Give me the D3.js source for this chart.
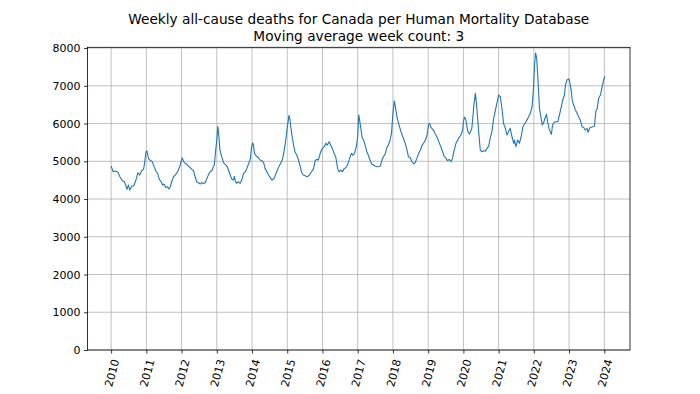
<!DOCTYPE html>
<html><head><meta charset="utf-8">
<script src="https://cdn.jsdelivr.net/npm/d3@7"></script>
<style>body{margin:0;background:#fff} text{font-family:"DejaVu Sans",sans-serif;fill:#000}</style>
</head><body><svg id="c" width="700" height="394"></svg>
<script>
const titleLines = ["Weekly all-cause deaths for Canada per Human Mortality Database", "Moving average week count: 3"];
const yearTicks = [2010,2011,2012,2013,2014,2015,2016,2017,2018,2019,2020,2021,2022,2023,2024];
const yTicks = [0,1000,2000,3000,4000,5000,6000,7000,8000];

// dates as decimal years
const dates = [
 2010.00,2010.06,2010.11,2010.19,2010.25,2010.32,2010.38,2010.41,2010.45,2010.49,2010.53,2010.59,2010.64,2010.70,2010.76,2010.81,2010.87,2010.92,2010.95,2010.99,
 2011.02,2011.06,2011.10,2011.17,2011.23,2011.28,2011.32,2011.37,2011.42,2011.46,2011.50,2011.55,2011.60,2011.64,2011.68,2011.72,2011.77,2011.82,2011.86,2011.91,2011.96,2012.00,
 2012.02,2012.06,2012.10,2012.15,2012.19,2012.24,2012.29,2012.34,2012.38,2012.43,2012.48,2012.53,2012.57,2012.62,2012.67,2012.72,2012.76,2012.81,2012.86,2012.90,2012.93,2012.97,
 2013.00,2013.03,2013.06,2013.09,2013.14,2013.19,2013.26,2013.30,2013.35,2013.40,2013.43,2013.47,2013.50,2013.53,2013.57,2013.61,2013.66,2013.71,2013.76,2013.81,2013.85,2013.90,2013.95,2013.99,
 2014.02,2014.04,2014.07,2014.12,2014.18,2014.23,2014.28,2014.33,2014.37,2014.42,2014.47,2014.51,2014.57,2014.63,2014.68,2014.74,2014.80,2014.86,2014.89,2014.93,2014.97,
 2015.01,2015.05,2015.07,2015.10,2015.14,2015.18,2015.22,2015.27,2015.32,2015.37,2015.41,2015.46,2015.52,2015.57,2015.63,2015.69,2015.75,2015.79,2015.84,2015.88,2015.91,2015.95,
 2016.00,2016.05,2016.10,2016.14,2016.19,2016.24,2016.28,2016.33,2016.38,2016.43,2016.47,2016.52,2016.57,2016.62,2016.66,2016.71,2016.77,2016.82,2016.86,2016.91,2016.96,
 2017.00,2017.03,2017.05,2017.09,2017.13,2017.16,2017.21,2017.26,2017.30,2017.35,2017.40,2017.45,2017.49,2017.54,2017.59,2017.64,2017.69,2017.73,2017.78,2017.83,2017.87,2017.92,2017.96,
 2018.00,2018.04,2018.07,2018.11,2018.16,2018.21,2018.26,2018.30,2018.35,2018.40,2018.44,2018.49,2018.54,2018.59,2018.63,2018.68,2018.73,2018.78,2018.83,2018.87,2018.92,2018.97,
 2019.01,2019.04,2019.08,2019.13,2019.17,2019.22,2019.27,2019.32,2019.36,2019.41,2019.46,2019.51,2019.55,2019.60,2019.65,2019.69,2019.74,2019.79,2019.84,2019.88,2019.93,2019.98,
 2020.00,2020.03,2020.07,2020.12,2020.17,2020.21,2020.24,2020.27,2020.30,2020.34,2020.37,2020.40,2020.43,2020.48,2020.53,2020.58,2020.62,2020.67,2020.72,2020.76,2020.81,2020.86,2020.91,2020.95,
 2021.00,2021.05,2021.10,2021.14,2021.19,2021.24,2021.28,2021.33,2021.38,2021.43,2021.45,2021.49,2021.54,2021.59,2021.64,2021.69,2021.76,2021.83,2021.90,2021.95,2021.99,
 2022.02,2022.05,2022.08,2022.11,2022.14,2022.16,2022.20,2022.24,2022.28,2022.32,2022.36,2022.39,2022.43,2022.47,2022.50,2022.53,2022.58,2022.63,2022.68,2022.72,2022.77,2022.82,2022.87,2022.90,2022.94,2022.99,
 2023.02,2023.06,2023.09,2023.13,2023.18,2023.23,2023.27,2023.32,2023.37,2023.42,2023.46,2023.51,2023.54,2023.59,2023.63,2023.68,2023.72,2023.76,2023.80,2023.84,2023.89,2023.94,2023.98,2024.02
];
const deaths = [
 4874,4723,4740,4715,4590,4485,4458,4371,4257,4371,4238,4344,4344,4485,4697,4635,4750,4785,4944,5253,
 5270,5077,5033,4988,4838,4723,4679,4521,4458,4371,4397,4309,4327,4265,4327,4458,4590,4635,4679,4768,4900,5050,
 5090,4988,4944,4926,4874,4838,4785,4750,4609,4458,4432,4397,4432,4415,4432,4547,4635,4723,4750,4850,4900,5300,
 5560,5930,5650,5298,5121,4962,4900,4856,4723,4590,4521,4503,4600,4459,4415,4459,4415,4503,4680,4723,4810,4927,5050,5386,
 5490,5430,5210,5140,5100,5033,5015,4962,4812,4723,4635,4573,4503,4547,4680,4812,4927,5033,5165,5386,5650,
 5960,6220,6150,5916,5650,5430,5253,5165,5033,4856,4697,4635,4609,4590,4635,4723,4812,5015,5050,5033,5121,5253,
 5342,5386,5475,5430,5520,5410,5342,5210,5100,4812,4723,4767,4723,4812,4830,4900,5077,5210,5165,5210,5386,
 5650,6230,6120,5873,5608,5580,5430,5253,5165,5033,4927,4900,4874,4856,4856,4874,5033,5121,5190,5368,5430,5565,5740,
 6270,6600,6440,6199,6005,5846,5696,5608,5475,5298,5121,5100,4988,4927,4962,5077,5210,5298,5430,5475,5565,5696,
 5960,6005,5900,5846,5785,5696,5608,5475,5386,5253,5121,5077,5015,5050,4988,5077,5298,5475,5565,5634,5696,5830,
 6049,6170,6100,5810,5722,5800,5874,6180,6500,6800,6550,6200,5828,5298,5253,5280,5270,5342,5400,5608,5784,6137,6358,6535,
 6755,6710,6358,6005,5873,5695,5784,5873,5650,5475,5560,5386,5563,5475,5650,5916,6022,6137,6270,6446,6932,
 7550,7870,7727,7285,6755,6402,6180,5960,6031,6154,6243,6049,5873,5767,5714,5960,6040,6049,6049,6200,6402,6623,6755,7038,7152,7179,
 7107,6887,6623,6490,6358,6270,6180,6092,5916,5890,5828,5873,5767,5890,5900,5916,5930,6313,6402,6667,6755,6975,7152,7250
];

const svg = d3.select("#c");
const L = 87.5, R = 630, T = 47.3, B = 350;
const x = d3.scaleLinear().domain([2009.33, 2024.73]).range([L, R]);
const y = d3.scaleLinear().domain([0, 8020]).range([B, T]);

// grid
const grid = svg.append("g").attr("stroke", "#b0b0b0").attr("stroke-width", 0.8);
grid.selectAll("line.v").data(yearTicks).join("line")
  .attr("x1", d => x(d)).attr("x2", d => x(d)).attr("y1", T).attr("y2", B);
grid.selectAll("line.h").data(yTicks).join("line")
  .attr("x1", L).attr("x2", R).attr("y1", d => y(d)).attr("y2", d => y(d));

// line
const pts = dates.map((d, i) => [d, deaths[i]]);
svg.append("path").datum(pts)
  .attr("fill", "none").attr("stroke", "#1f77b4").attr("stroke-width", 1.1)
  .attr("stroke-linejoin", "round")
  .attr("d", d3.line().x(d => x(d[0])).y(d => y(d[1])));

// axes
const yAxis = d3.axisLeft(y).tickValues(yTicks).tickSize(3.5).tickPadding(3.5).tickFormat(d3.format("d"));
const gy = svg.append("g").attr("transform", `translate(${L},0)`).call(yAxis);
gy.select(".domain").remove();
gy.selectAll("text").attr("font-size", "11px").attr("font-family", "DejaVu Sans");
gy.selectAll("line").attr("stroke", "#000").attr("stroke-width", 0.8);

const xAxis = d3.axisBottom(x).tickValues(yearTicks).tickSize(3.5).tickFormat(d3.format("d"));
const gx = svg.append("g").attr("transform", `translate(0,${B})`).call(xAxis);
gx.select(".domain").remove();
gx.selectAll("line").attr("stroke", "#000").attr("stroke-width", 0.8);
gx.selectAll("text")
  .attr("font-size", "11px").attr("font-family", "DejaVu Sans")
  .attr("text-anchor", "end").attr("dy", "0.35em")
  .attr("x", 0).attr("y", 0)
  .attr("transform", "translate(4,9.5) rotate(-75)");

// spines
svg.append("rect").attr("x", L).attr("y", T).attr("width", R - L).attr("height", B - T)
  .attr("fill", "none").attr("stroke", "#000").attr("stroke-width", 0.8);

// title
svg.append("g").selectAll("text").data(titleLines).join("text")
  .attr("x", (L + R) / 2).attr("y", (d, i) => 24 + i * 17)
  .attr("text-anchor", "middle").attr("font-size", "13.7px")
  .text(d => d);
</script></body></html>
